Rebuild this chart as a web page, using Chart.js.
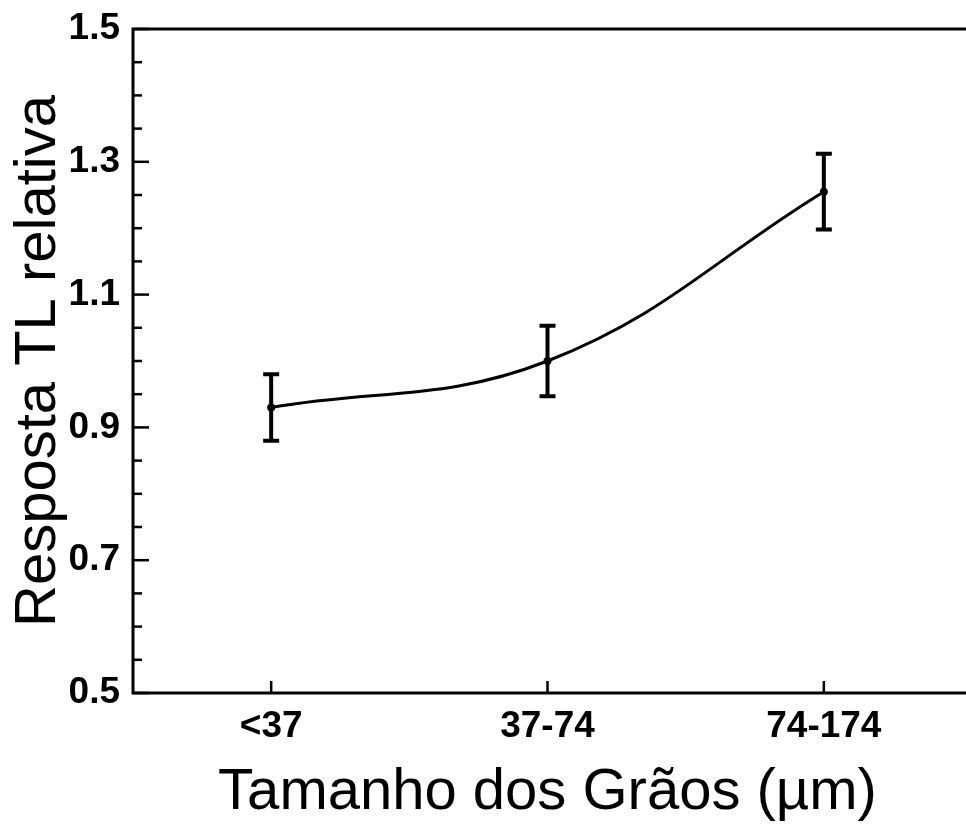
<!DOCTYPE html>
<html>
<head>
<meta charset="utf-8">
<title>Resposta TL relativa</title>
<script src="https://cdn.jsdelivr.net/npm/chart.js@4"></script>
<style>
  html, body { margin: 0; padding: 0; background: #fff; }
  #wrap { width: 966px; height: 829px; position: relative; }
</style>
</head>
<body>
<div id="wrap"><canvas id="chart"></canvas></div>
<script>
// Data
const categories = ['<37', '37-74', '74-174'];
const responseValues = [0.93, 1.0, 1.255];
const errorValues = [0.05, 0.053, 0.057];
const yTickLabels = [0.5, 0.7, 0.9, 1.1, 1.3, 1.5];

const isLabelTick = v => yTickLabels.some(t => Math.abs(t - v) < 1e-6);

// Frame (left, top, bottom) with inward ticks, plus error bars
const framePlugin = {
  id: 'frame',
  afterDatasetsDraw(chart) {
    const ctx = chart.ctx;
    const area = chart.chartArea;
    const xs = chart.scales.x;
    const ys = chart.scales.y;

    ctx.save();
    ctx.strokeStyle = '#000';
    ctx.lineCap = 'butt';

    // error bars
    const meta = chart.getDatasetMeta(0);
    ctx.lineWidth = 4;
    meta.data.forEach((pt, i) => {
      const yTop = ys.getPixelForValue(responseValues[i] + errorValues[i]);
      const yBot = ys.getPixelForValue(responseValues[i] - errorValues[i]);
      ctx.beginPath();
      ctx.moveTo(pt.x, yTop);
      ctx.lineTo(pt.x, yBot);
      ctx.moveTo(pt.x - 8, yTop);
      ctx.lineTo(pt.x + 8, yTop);
      ctx.moveTo(pt.x - 8, yBot);
      ctx.lineTo(pt.x + 8, yBot);
      ctx.stroke();
    });

    // axis lines
    ctx.lineWidth = 3;
    ctx.beginPath();
    ctx.moveTo(area.left, area.top);
    ctx.lineTo(area.left, area.bottom);
    ctx.moveTo(area.left - 1.5, area.top);
    ctx.lineTo(chart.width, area.top);
    ctx.moveTo(area.left - 1.5, area.bottom);
    ctx.lineTo(chart.width, area.bottom);
    ctx.stroke();

    // y ticks pointing inward
    ctx.lineWidth = 2.5;
    ys.ticks.forEach(t => {
      const y = ys.getPixelForValue(t.value);
      const len = isLabelTick(t.value) ? 16 : 9;
      ctx.beginPath();
      ctx.moveTo(area.left, y);
      ctx.lineTo(area.left + len, y);
      ctx.stroke();
    });

    // x ticks pointing inward
    xs.ticks.forEach((t, i) => {
      const x = xs.getPixelForTick(i);
      ctx.beginPath();
      ctx.moveTo(x, area.bottom);
      ctx.lineTo(x, area.bottom - 12);
      ctx.stroke();
    });
    ctx.restore();
  }
};

new Chart(document.getElementById('chart'), {
  type: 'line',
  data: {
    labels: categories,
    datasets: [{
      data: responseValues,
      borderColor: '#000',
      borderWidth: 3,
      tension: 0.4,
      pointRadius: 4,
      pointBackgroundColor: '#000',
      pointBorderWidth: 0,
      fill: false
    }]
  },
  options: {
    responsive: true,
    maintainAspectRatio: false,
    animation: false,
    events: [],
    layout: { padding: { top: 29, right: 0, left: 0, bottom: 0 } },
    plugins: {
      legend: { display: false },
      tooltip: { enabled: false }
    },
    scales: {
      x: {
        type: 'category',
        offset: true,
        grid: { display: false },
        border: { display: false },
        ticks: {
          color: '#000',
          padding: 4,
          maxRotation: 0,
          font: { family: 'Liberation Sans, Arial, sans-serif', size: 37, weight: 'bold' }
        },
        title: {
          display: true,
          text: 'Tamanho dos Grãos (µm)',
          color: '#000',
          padding: { top: 0, bottom: 1 },
          font: { family: 'Liberation Sans, Arial, sans-serif', size: 58, lineHeight: 1.2 }
        },
        afterFit(scale) { scale.height = 136; }
      },
      y: {
        min: 0.5,
        max: 1.5,
        grid: { display: false },
        border: { display: false },
        ticks: {
          stepSize: 0.05,
          autoSkip: false,
          color: '#000',
          padding: 5,
          font: { family: 'Liberation Sans, Arial, sans-serif', size: 37, weight: 'bold' },
          callback: v => isLabelTick(v) ? v.toFixed(1) : ''
        },
        title: {
          display: true,
          text: 'Resposta TL relativa',
          color: '#000',
          padding: { top: 4, bottom: 0 },
          font: { family: 'Liberation Sans, Arial, sans-serif', size: 58, lineHeight: 1.2 }
        },
        afterFit(scale) { scale.width = 133; }
      }
    }
  },
  plugins: [framePlugin]
});
</script>
</body>
</html>
